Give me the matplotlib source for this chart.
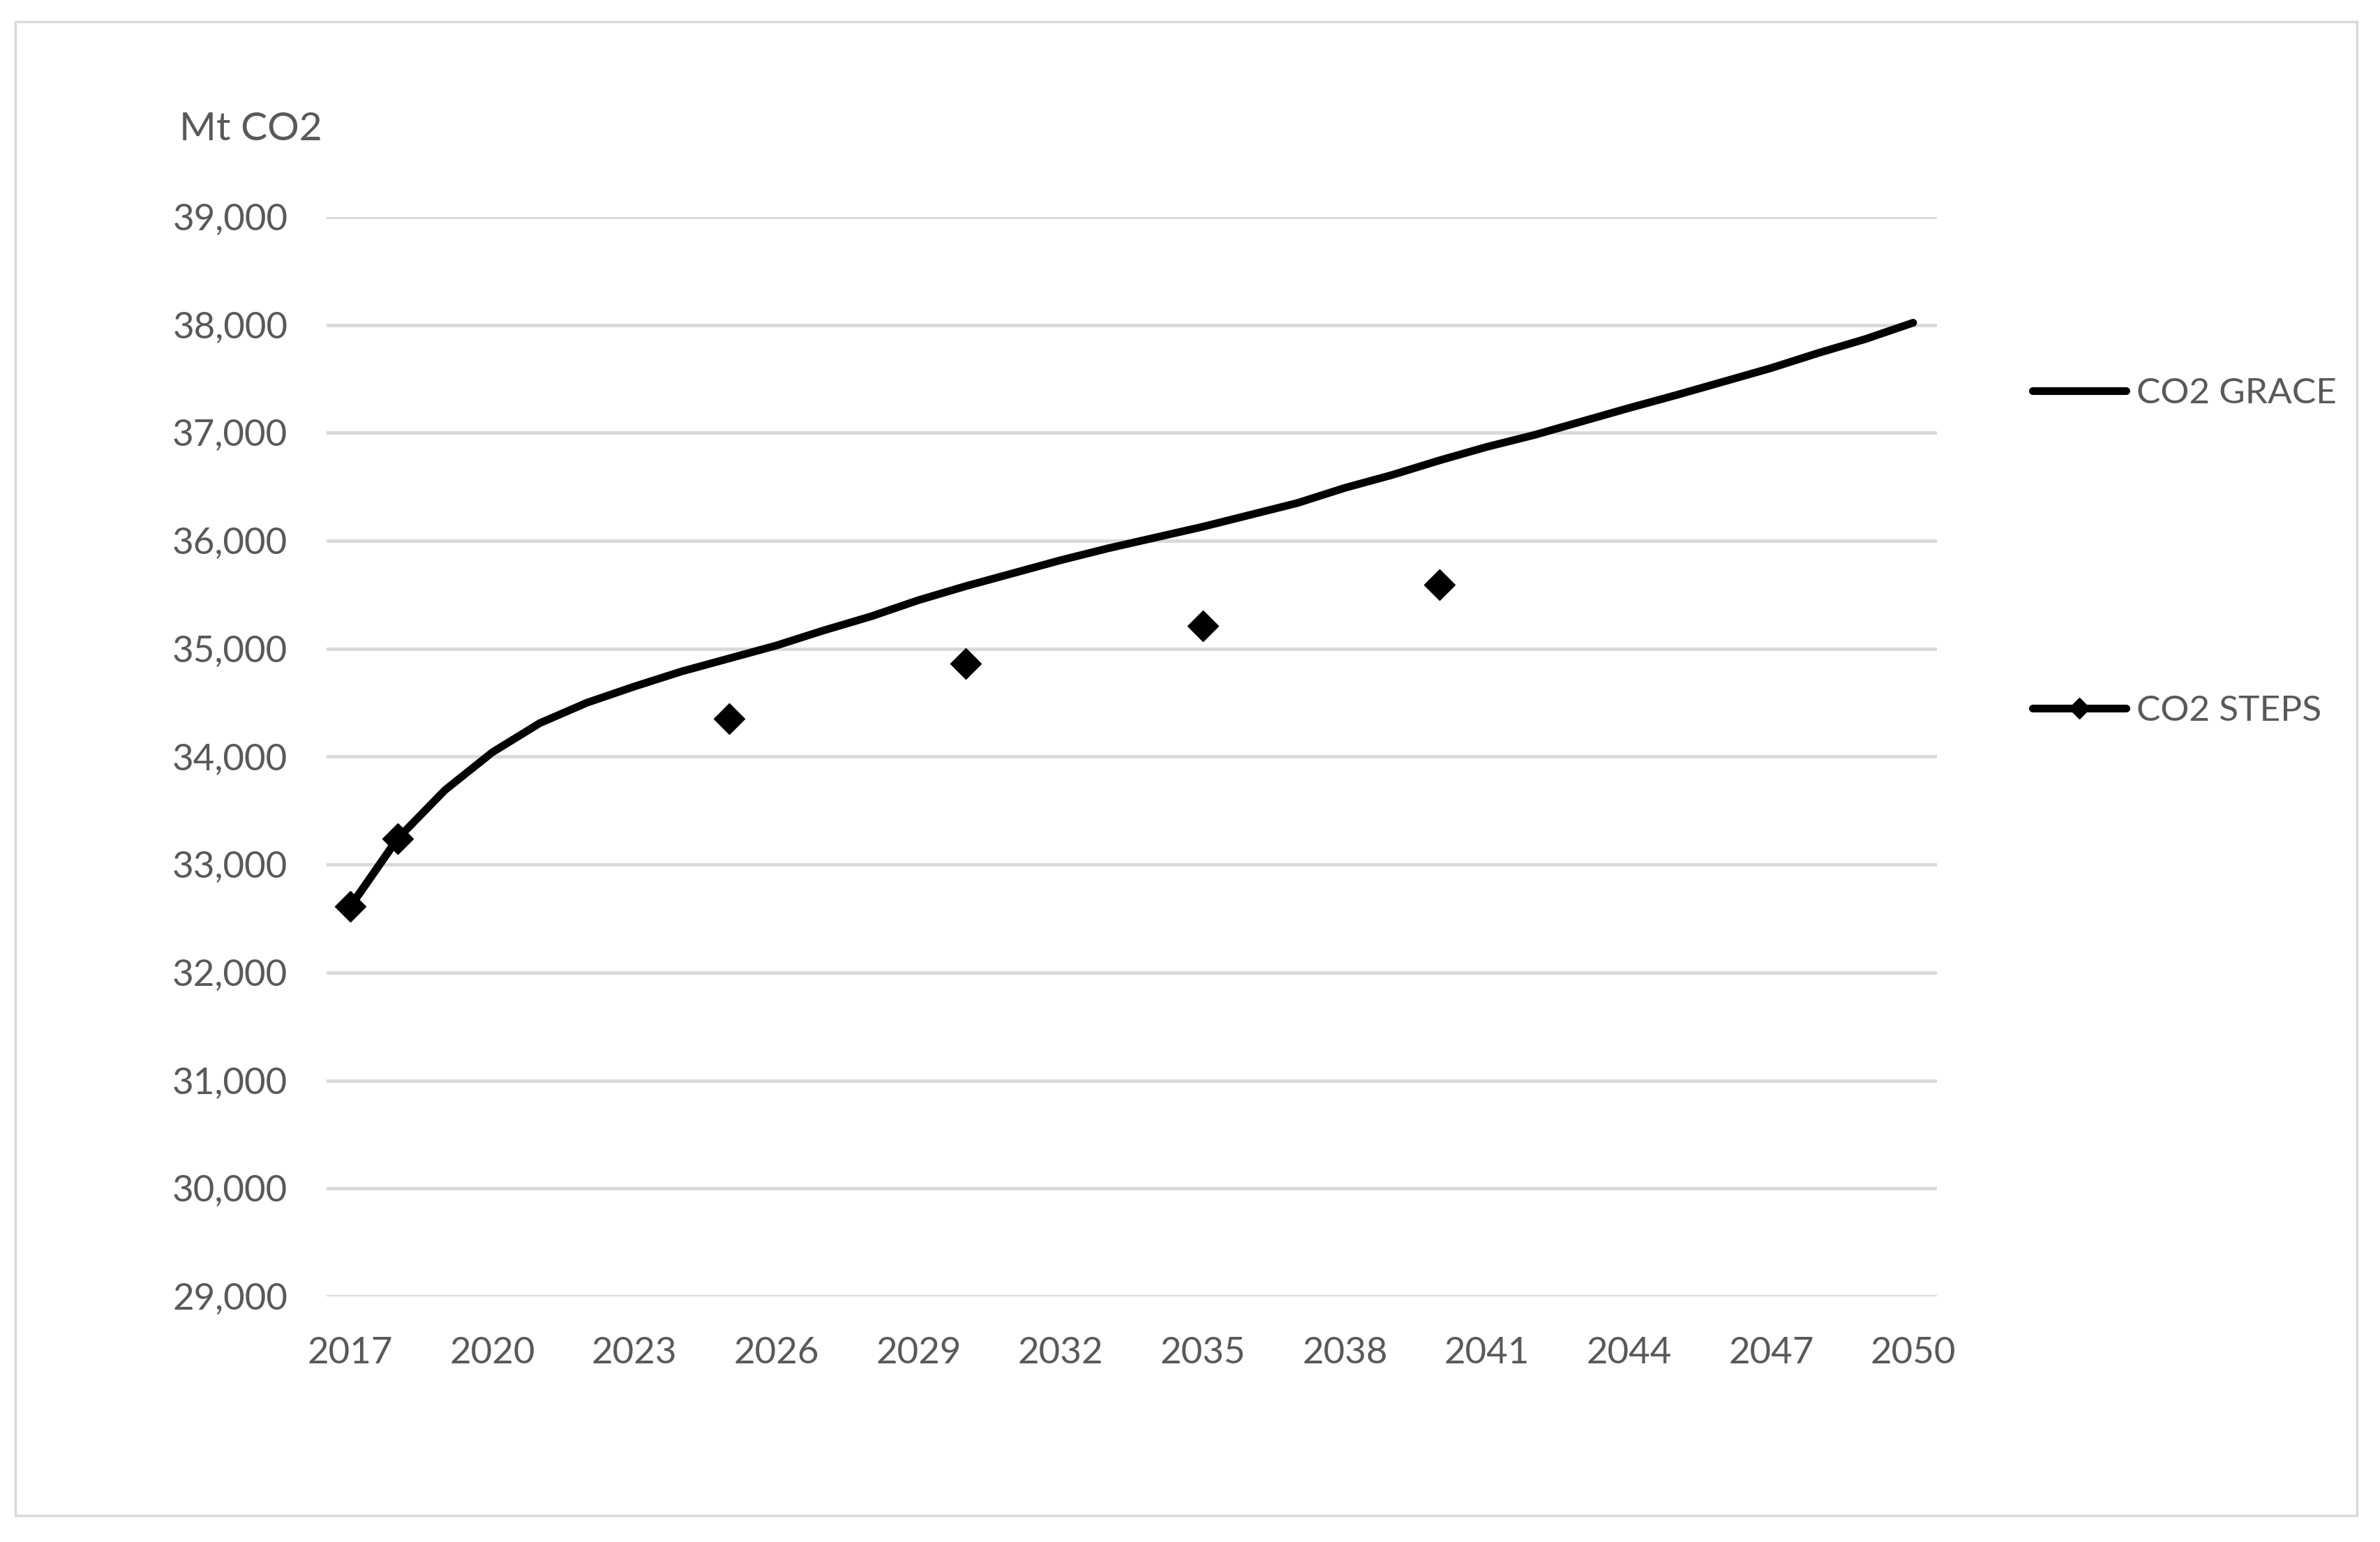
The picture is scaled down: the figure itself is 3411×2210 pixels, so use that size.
import numpy as np
import matplotlib.pyplot as plt
from matplotlib.patches import Rectangle

plt.rcParams['font.family'] = ['Lato', 'DejaVu Sans']

# data (Mt CO2)
years = list(range(2017, 2051))
grace = [32610, 33240, 33690, 34040, 34310, 34500, 34650, 34790, 34910, 35030,
         35170, 35300, 35450, 35580, 35700, 35820, 35930, 36030, 36130, 36240,
         36350, 36490, 36610, 36745, 36870, 36980, 37105, 37230, 37350, 37475,
         37600, 37740, 37870, 38020]
steps_years = [2017, 2018, 2025, 2030, 2035, 2040]
steps_vals = [32610, 33240, 34350, 34860, 35210, 35590]
tick_years = list(range(2017, 2051, 3))
y_ticks = list(range(29000, 39001, 1000))

# steps only has some years, gaps in between (like excel)
steps = np.full(len(years), np.nan)
for yr, v in zip(steps_years, steps_vals):
    steps[years.index(yr)] = v

text_col = "#595959"
grid_col = "#D9D9D9"

fig = plt.figure(figsize=(34.11, 22.10), dpi=100)
fig.patches.append(Rectangle((0.0065, 0.017), 0.9838, 0.969, transform=fig.transFigure,
                             fill=False, edgecolor=grid_col, linewidth=2.5))

ax = fig.add_axes([0.1372, 0.1593, 0.6766, 0.7000])
ax.plot(years, grace, color="black", linewidth=8, solid_capstyle="round",
        label="CO2 GRACE", zorder=3)
ax.plot(years, steps, color="black", linewidth=8, marker="D", markersize=22,
        solid_capstyle="round", label="CO2 STEPS", zorder=4)

ax.set_xlim(2016.5, 2050.5)
ax.set_ylim(29000, 39000)
ax.set_xticks(tick_years)
ax.set_yticks(y_ticks)
ax.yaxis.set_major_formatter(plt.FuncFormatter(lambda v, p: f"{int(v):,}"))
ax.tick_params(length=0, labelsize=38, labelcolor=text_col)
ax.tick_params(axis="y", pad=40)
ax.tick_params(axis="x", pad=42)
ax.grid(axis="y", color=grid_col, linewidth=3.5)
ax.set_axisbelow(True)
for s in ax.spines.values():
    s.set_visible(False)

fig.text(0.0753, 0.916, "Mt CO2", fontsize=41, color=text_col, va="center", ha="left")

# legend entries placed by hand on the right
h, l = ax.get_legend_handles_labels()
leg1 = fig.legend([h[0]], [l[0]], loc="center left", bbox_to_anchor=(0.8405, 0.745),
                  frameon=False, fontsize=37, handlelength=2.6, handletextpad=0.3,
                  labelcolor=text_col)
leg2 = fig.legend([h[1]], [l[1]], loc="center left", bbox_to_anchor=(0.8405, 0.539),
                  frameon=False, fontsize=37, handlelength=2.6, handletextpad=0.3,
                  labelcolor=text_col, markerscale=0.7)

fig.savefig("out.png", dpi=100, facecolor="white")
